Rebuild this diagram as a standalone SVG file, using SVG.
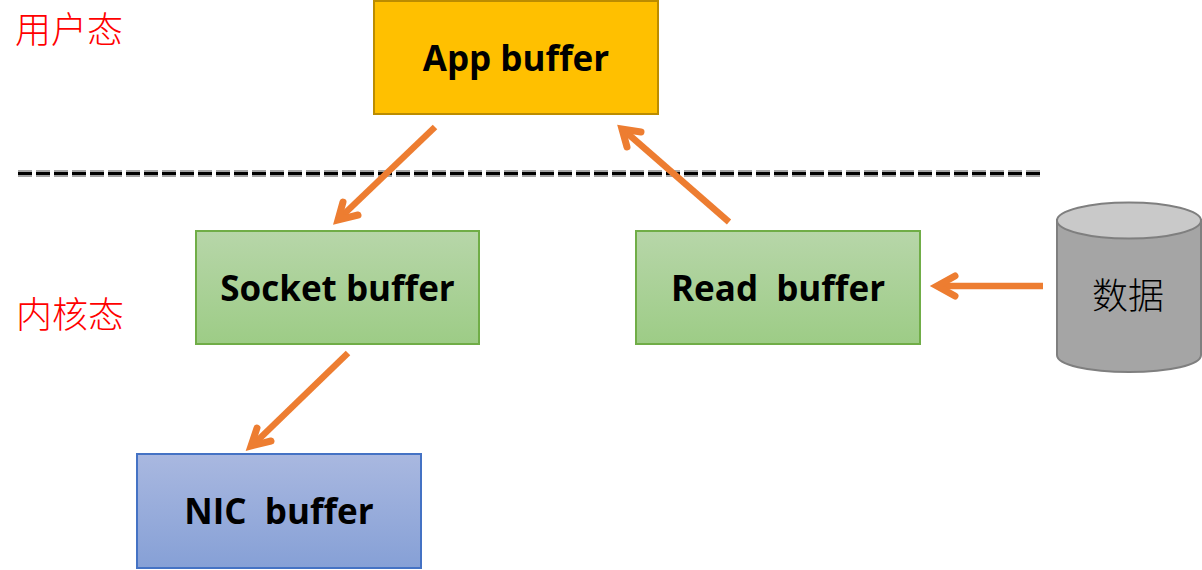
<svg xmlns="http://www.w3.org/2000/svg" width="1202" height="570" viewBox="0 0 1202 570">
<style>
.box{stroke-width:2}
.t{font-family:"Open Sans","Noto Sans","Liberation Sans",sans-serif;font-weight:700;font-size:35px;fill:#000;text-anchor:middle;white-space:pre}
.cjk{font-family:"Noto Sans CJK SC",sans-serif;font-weight:300;font-size:36px}
.a{fill:none;stroke:#ed7d31;stroke-width:6.500;stroke-linejoin:round}
.h{fill:none;stroke:#ed7d31;stroke-width:7;stroke-linecap:round;stroke-linejoin:miter}
</style>
<defs>
<linearGradient id="g" x1="0" y1="0" x2="0" y2="1"><stop offset="0" stop-color="#b7d6a9"/><stop offset="1" stop-color="#9dcc86"/></linearGradient>
<linearGradient id="b" x1="0" y1="0" x2="0" y2="1"><stop offset="0" stop-color="#a9b8e0"/><stop offset="1" stop-color="#86a0d6"/></linearGradient>
</defs>
<rect width="1202" height="570" fill="#fff"/>
<g id="separator"><line x1="18" y1="173.500" x2="1040" y2="173.500" stroke="#000" stroke-width="3" stroke-dasharray="14 4"/><line x1="18" y1="171" x2="1040" y2="171" stroke="#888" stroke-width="1.500" stroke-dasharray="14 4"/><line x1="18" y1="176" x2="1040" y2="176" stroke="#888" stroke-width="1.500" stroke-dasharray="14 4"/></g>
<g id="label-user"><text x="15" y="43" class="cjk" fill="#f00">用户态</text></g>
<g id="label-kernel"><text x="16" y="328" class="cjk" fill="#f00">内核态</text></g>
<g id="app-buffer"><rect class="box" x="374" y="1" width="284" height="113" fill="#ffc000" stroke="#bc8c00"/><text class="t" x="516" y="71">App buffer</text></g>
<g id="socket-buffer"><rect class="box" x="196" y="231" width="283" height="113" fill="url(#g)" stroke="#70ad47"/><text class="t" x="337.500" y="301">Socket buffer</text></g>
<g id="read-buffer"><rect class="box" x="636" y="231" width="284" height="113" fill="url(#g)" stroke="#70ad47"/><text class="t" x="778" y="301">Read  buffer</text></g>
<g id="nic-buffer"><rect class="box" x="137" y="454" width="284" height="114" fill="url(#b)" stroke="#4472c4"/><text class="t" x="279" y="524">NIC  buffer</text></g>
<g id="data">
<path d="M1057 220V355C1057 365 1089 372 1129 372S1201 365 1201 355V220Z" fill="#a5a5a5" stroke="#7f7f7f" stroke-width="2"/>
<ellipse cx="1129" cy="220.500" rx="72" ry="18" fill="#c9c9c9" stroke="#7f7f7f" stroke-width="2"/>
<text x="1128" y="309" class="cjk" fill="#000" text-anchor="middle">数据</text>
</g>
<g id="connectors">
<path class="a" d="M435 127L342 216"/><path class="h" d="M343 202L338 220L358 215"/>
<path class="a" d="M729 222L627 133"/><path class="h" d="M627 147L622 129L641 132"/>
<path class="a" d="M348 353L256 442"/><path class="h" d="M257 428L251 446L271 441"/>
<path class="a" d="M1043 286H942"/><path class="h" d="M955 276L937 286L955 296"/>
</g>
</svg>
